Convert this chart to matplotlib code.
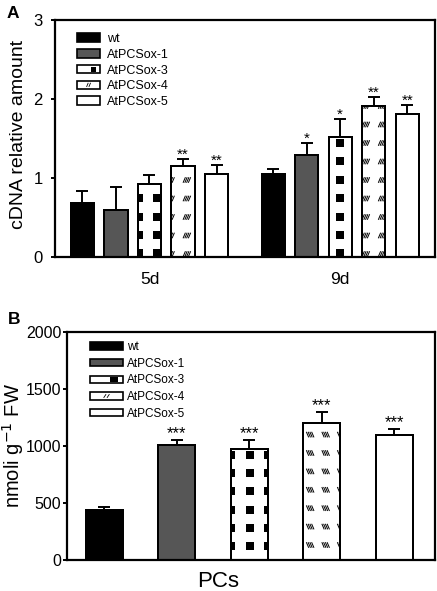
import numpy as np
import matplotlib
matplotlib.use('Agg')
import matplotlib.pyplot as plt
from matplotlib.patches import Rectangle, Patch
from matplotlib.lines import Line2D
from matplotlib.path import Path
from matplotlib.legend_handler import HandlerBase

plt.rcParams['font.family'] = ['Liberation Sans', 'DejaVu Sans']

# data
lines = ['wt', 'AtPCSox-1', 'AtPCSox-3', 'AtPCSox-4', 'AtPCSox-5']
days = ['5d', '9d']
cdna_5d = [0.68, 0.60, 0.92, 1.15, 1.05]
cdna_5d_err = [0.16, 0.29, 0.12, 0.09, 0.12]
cdna_9d = [1.05, 1.29, 1.52, 1.91, 1.81]
cdna_9d_err = [0.06, 0.15, 0.23, 0.11, 0.11]
sig_5d = ['', '', '', '**', '**']
sig_9d = ['', '*', '*', '**', '**']
pcs = [440, 1005, 970, 1200, 1100]
pcs_err = [25, 50, 85, 100, 50]
sig_pcs = ['', '***', '***', '***', '***']

faces = ['black', '#565656', 'white', 'white', 'white']
kinds = [None, None, 'squares', 'hatch', None]

W, H = 437, 591
fig = plt.figure(figsize=(W / 100, H / 100), dpi=100)


def px_axes(l, t, r, b):
    return fig.add_axes([l / W, 1 - b / H, (r - l) / W, (b - t) / H])


# marker for the small slashed hatch blocks
verts, codes = [], []
for k in range(4):
    bx = -0.5 + k * 0.22
    verts += [(bx, -0.35), (bx + 0.3, 0.35)]
    codes += [Path.MOVETO, Path.LINETO]
slash = Path(verts, codes)
backslash = Path([(-x, y) for x, y in verts], codes)


def add_pattern(ax, bar, kind, x0, y0, dx, dy, mark):
    # pattern grid laid out in pixels, clipped to the bar
    bb = ax.bbox
    xs = x0 + dx * np.arange(-40, 40)
    ys = (H - y0) + dy * np.arange(-40, 40)
    xs = xs[(xs > bb.x0 - 10) & (xs < bb.x1 + 10)]
    ys = ys[(ys > bb.y0 - 10) & (ys < bb.y1 + 10)]
    gx, gy = np.meshgrid(xs, ys)
    pts = ax.transData.inverted().transform(np.column_stack([gx.ravel(), gy.ravel()]))
    if kind == 'squares':
        sc = ax.scatter(pts[:, 0], pts[:, 1], s=26, marker='s', c='k', linewidths=0, zorder=2.5)
    else:
        sc = ax.scatter(pts[:, 0], pts[:, 1], s=33, marker=mark, facecolors='none',
                        edgecolors='k', linewidths=0.7, zorder=2.5)
    sc.set_clip_path(bar)


class PatternHandler(HandlerBase):
    def __init__(self, kind):
        super().__init__()
        self.kind = kind

    def create_artists(self, legend, orig_handle, xdescent, ydescent, width, height, fontsize, trans):
        x0, y0 = -xdescent, -ydescent
        arts = [Rectangle((x0, y0), width, height, facecolor=orig_handle.get_facecolor(),
                          edgecolor='k', lw=1.2, transform=trans)]
        if self.kind == 'squares':
            arts.append(Rectangle((x0 + 0.62 * width, y0 + 0.2 * height), 0.22 * width, 0.6 * height,
                                  fc='k', ec='none', transform=trans))
        elif self.kind == 'hatch':
            for k in range(2):
                arts.append(Line2D([x0 + (0.42 + 0.1 * k) * width, x0 + (0.48 + 0.1 * k) * width],
                                   [y0 + 0.3 * height, y0 + 0.7 * height], color='k', lw=0.6, transform=trans))
        return arts


def draw_bars(ax, x, vals, errs, width):
    bars = ax.bar(x, vals, width, color=faces, edgecolor='k', linewidth=1.4, zorder=2)
    ax.errorbar(x, vals, yerr=[np.zeros(len(errs)), errs], fmt='none', ecolor='k',
                elinewidth=1.4, capsize=4.3, capthick=1.4, zorder=1)
    return bars


def style_axis(ax):
    for sp in ax.spines.values():
        sp.set_linewidth(1.6)
    ax.tick_params(axis='x', length=0)


# ---- panel A
axA = px_axes(55, 20, 435, 257)
axA.set_xlim(-0.82, 10.52)
axA.set_ylim(0, 3)
group_off = [0, 5.69]
day_vals = [(cdna_5d, cdna_5d_err, sig_5d), (cdna_9d, cdna_9d_err, sig_9d)]
for off, (vals, errs, sig) in zip(group_off, day_vals):
    x = off + np.arange(len(lines))
    bars = draw_bars(axA, x, vals, errs, 0.69)
    for b, k in zip(bars, kinds):
        if k == 'squares':
            add_pattern(axA, b, k, 139, 143, 18.27, 18.4, None)
        elif k == 'hatch':
            add_pattern(axA, b, k, 366, 143, 16.27, 18.5, slash)
    axA.bar(x, vals, 0.69, fill=False, edgecolor='k', linewidth=1.4, zorder=3)
    for xi, v, e, s in zip(x, vals, errs, sig):
        axA.annotate(s, (xi, v + e), xytext=(0, 0.2), textcoords='offset points',
                     ha='center', va='baseline', fontsize=11)
axA.set_xticks([o + 2 for o in group_off])
axA.set_xticklabels(days, fontsize=12.5)
axA.set_yticks([0, 1, 2, 3])
axA.tick_params(axis='y', labelsize=12, length=3, width=1.4, pad=6)
style_axis(axA)
axA.tick_params(axis='x', pad=11)
hA = [Patch(facecolor=f, edgecolor='k') for f in faces]
axA.legend(hA, lines, loc='upper left', bbox_to_anchor=(77 / W, 1 - 33 / H),
           bbox_transform=fig.transFigure, frameon=False, borderpad=0, borderaxespad=0,
           fontsize=9, handlelength=1.85, handleheight=0.65, handletextpad=0.55,
           labelspacing=0.3, handler_map={h: PatternHandler(k) for h, k in zip(hA, kinds)})

# ---- panel B
axB = px_axes(67, 332, 435, 560)
axB.set_xlim(-0.517, 4.56)
axB.set_ylim(0, 2000)
xb = np.arange(len(lines))
bars = draw_bars(axB, xb, pcs, pcs_err, 0.51)
for b, k in zip(bars, kinds):
    if k == 'squares':
        add_pattern(axB, b, k, 249.5, 455, 18.3, 18.2, None)
    elif k == 'hatch':
        add_pattern(axB, b, k, 310, 453, 15.5, 18.4, backslash)
axB.bar(xb, pcs, 0.51, fill=False, edgecolor='k', linewidth=1.4, zorder=3)
for xi, v, e, s in zip(xb, pcs, pcs_err, sig_pcs):
    axB.annotate(s, (xi, v + e), xytext=(0, 1.2), textcoords='offset points',
                 ha='center', va='baseline', fontsize=12)
axB.set_xticks([])
axB.set_yticks([0, 500, 1000, 1500, 2000])
axB.tick_params(axis='y', labelsize=11.5, length=3, width=1.4, pad=1)
style_axis(axB)
hB = [Patch(facecolor=f, edgecolor='k') for f in faces]
axB.legend(hB, lines, loc='upper left', bbox_to_anchor=(90 / W, 1 - 341 / H),
           bbox_transform=fig.transFigure, frameon=False, borderpad=0, borderaxespad=0,
           fontsize=8.5, handlelength=2.8, handleheight=0.6, handletextpad=0.35,
           labelspacing=0.4, handler_map={h: PatternHandler(k) for h, k in zip(hB, kinds)})
axB.text((218 - 67) / 368, -0.096, 'PCs', transform=axB.transAxes, ha='center', va='center', fontsize=16)

# labels
fig.text(19 / W, 1 - 134 / H, 'cDNA relative amount', rotation=90, ha='center', va='center', fontsize=14)
fig.text(13 / W, 1 - 445 / H, r'nmoli g$^{-1}$ FW', rotation=90, ha='center', va='center', fontsize=14.5)
fig.text(13 / W, 1 - 14 / H, 'A', ha='center', va='center', fontsize=12.5, fontweight='bold')
fig.text(14 / W, 1 - 319 / H, 'B', ha='center', va='center', fontsize=12.5, fontweight='bold')

fig.savefig('out.png', dpi=100)
